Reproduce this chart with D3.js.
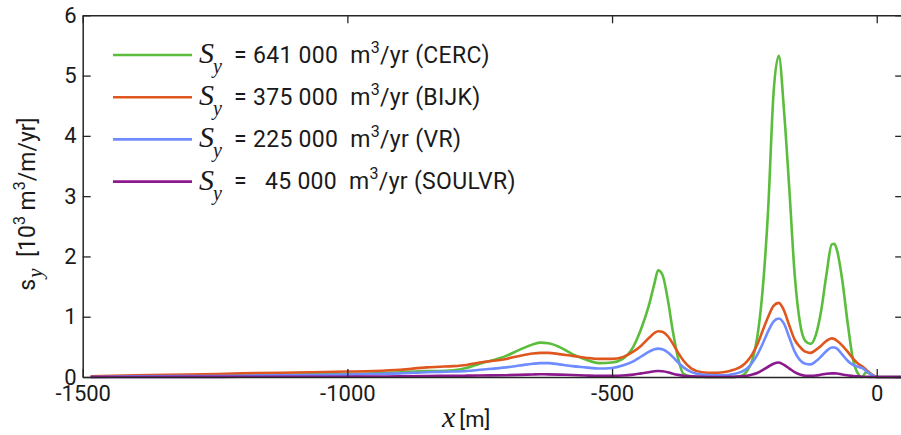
<!DOCTYPE html>
<html><head><meta charset="utf-8">
<script src="https://cdn.jsdelivr.net/npm/d3@7/dist/d3.min.js"></script>
<style>
html,body{margin:0;padding:0;background:#fff;}
svg{display:block;}
text{font-family:Roboto,"Noto Sans",sans-serif;fill:#1a1a1a;}
</style></head>
<body>
<svg id="chart" width="901" height="435"></svg>
<script>
// ---------- data ----------
const xs = [-1485,-1400,-1300,-1200,-1100,-1000,-950,-900,-850,-825,-800,-775,-750,-700,-675,-650,-635,-620,-600,-575,-550,-525,-500,-480,-460,-445,-430,-420,-413,-405,-395,-385,-375,-365,-350,-330,-310,-290,-270,-255,-245,-235,-225,-215,-205,-195,-185,-175,-165,-155,-145,-135,-125,-115,-105,-95,-85,-80,-75,-65,-55,-45,-35,-28,-20,-10,0,50];
const cerc   = [0.0,0.01,0.02,0.03,0.04,0.05,0.06,0.08,0.10,0.10,0.11,0.15,0.22,0.35,0.45,0.54,0.57,0.56,0.50,0.38,0.29,0.23,0.24,0.30,0.50,0.80,1.20,1.55,1.77,1.70,1.30,0.75,0.30,0.05,0.01,0.0,0.0,0.0,0.0,0.02,0.10,0.28,0.70,1.50,2.80,4.70,5.33,4.40,3.10,1.70,0.90,0.60,0.55,0.70,1.10,1.70,2.20,2.21,2.10,1.60,0.90,0.30,0.05,0.0,0.08,0.04,0,0];
const bijk   = [0.01,0.03,0.04,0.06,0.075,0.09,0.10,0.12,0.16,0.17,0.18,0.20,0.24,0.30,0.35,0.39,0.40,0.40,0.38,0.35,0.32,0.30,0.30,0.33,0.42,0.52,0.65,0.73,0.76,0.75,0.68,0.55,0.40,0.27,0.14,0.08,0.07,0.08,0.12,0.18,0.26,0.38,0.55,0.78,1.00,1.18,1.23,1.10,0.85,0.62,0.50,0.42,0.40,0.45,0.52,0.60,0.64,0.63,0.60,0.52,0.42,0.31,0.22,0.18,0.12,0.05,0,0];
const vr     = [0.0,0.01,0.015,0.02,0.03,0.04,0.05,0.06,0.08,0.085,0.09,0.10,0.12,0.16,0.19,0.22,0.23,0.23,0.21,0.18,0.16,0.14,0.15,0.19,0.26,0.34,0.42,0.46,0.47,0.46,0.41,0.33,0.24,0.16,0.08,0.04,0.03,0.03,0.05,0.09,0.14,0.24,0.38,0.56,0.76,0.92,0.97,0.88,0.65,0.42,0.28,0.22,0.21,0.26,0.34,0.43,0.49,0.49,0.47,0.37,0.27,0.20,0.17,0.15,0.10,0.04,0,0];
const soulvr = [0.0,0.0,0.002,0.003,0.004,0.005,0.008,0.01,0.015,0.018,0.02,0.022,0.025,0.03,0.035,0.042,0.045,0.044,0.04,0.032,0.025,0.02,0.02,0.025,0.04,0.06,0.08,0.095,0.10,0.095,0.08,0.055,0.035,0.02,0.01,0.003,0.0,0.0,0.002,0.01,0.02,0.04,0.07,0.12,0.17,0.22,0.24,0.20,0.14,0.08,0.04,0.02,0.02,0.025,0.04,0.055,0.06,0.06,0.058,0.04,0.03,0.015,0.01,0.005,0.003,0.001,0,0];

const seriesNames  = ["CERC","BIJK","VR","SOULVR"];
const seriesTotals = ["641 000","375 000","225 000","\u00a0\u00a045 000"];
const seriesColors = ["#5bbd3c","#e0561f","#6e8cff","#8c1a8e"];
const seriesValues = [cerc,bijk,vr,soulvr];

const xTicks = [-1500,-1000,-500,0];
const yTicks = [0,1,2,3,4,5,6];

// ---------- layout ----------
const svg = d3.select("#chart");
const L = 82.7, R = 903.2, T = 15.3, B = 377;
const x = d3.scaleLinear().domain([-1500,50]).range([L,R]);
const y = d3.scaleLinear().domain([0,6]).range([B,T]);

// curves
const line = d3.line().x(d=>x(d[0])).y(d=>y(d[1])).curve(d3.curveMonotoneX);
seriesValues.forEach((vals,i)=>{
  svg.append("path")
    .datum(xs.map((xv,j)=>[xv,vals[j]]))
    .attr("d",line).attr("fill","none")
    .attr("stroke",seriesColors[i]).attr("stroke-width",2.6)
    .attr("stroke-linejoin","round");
});

// axes
const axisColor = "#262626";
const fmt = d => String(d);
function styleAxis(g){
  g.select(".domain").attr("stroke",axisColor).attr("stroke-width",1.5);
  g.selectAll(".tick line").attr("stroke",axisColor).attr("stroke-width",1.3);
  g.selectAll(".tick text").style("font-family","Roboto, sans-serif").style("font-size","22px").attr("fill","#1a1a1a");
}
const gx = svg.append("g").attr("transform",`translate(0,${B})`)
  .call(d3.axisBottom(x).tickValues(xTicks).tickSizeInner(-8).tickSizeOuter(0).tickPadding(6).tickFormat(fmt));
styleAxis(gx);
gx.selectAll(".tick text").attr("dy","0.95em").attr("y",3);
const gxt = svg.append("g").attr("transform",`translate(0,${T})`)
  .call(d3.axisTop(x).tickValues(xTicks).tickSizeInner(-8).tickSizeOuter(0).tickFormat(""));
styleAxis(gxt);
const gy = svg.append("g").attr("transform",`translate(${L},0)`)
  .call(d3.axisLeft(y).tickValues(yTicks).tickSizeInner(-8).tickSizeOuter(0).tickPadding(7).tickFormat(fmt));
styleAxis(gy);
gy.selectAll(".tick text").attr("x",-6);
const gyr = svg.append("g").attr("transform",`translate(${R},0)`)
  .call(d3.axisRight(y).tickValues(yTicks).tickSizeInner(-8).tickSizeOuter(0).tickFormat(""));
styleAxis(gyr);

// x label
const xl = svg.append("text").attr("x",442).attr("y",427);
xl.append("tspan").text("x").style("font-family","'Liberation Serif',serif").style("font-style","italic").style("font-size","30px");
xl.append("tspan").text("[m]").style("font-size","22px").attr("dx",4);

// y label
const yl = svg.append("text").attr("transform","translate(35,204) rotate(-90)").attr("text-anchor","middle").style("font-size","23px");
yl.append("tspan").text("s");
yl.append("tspan").text("y").attr("dy",7).attr("dx",1).style("font-family","'Liberation Serif',serif").style("font-style","italic").style("font-size","21px");
yl.append("tspan").text("\u00a0 [10").attr("dy",-7);
yl.append("tspan").text("3").attr("dy",-10).style("font-size","16px");
yl.append("tspan").text("\u00a0m").attr("dy",10);
yl.append("tspan").text("3").attr("dy",-10).style("font-size","16px");
yl.append("tspan").text("/m/yr]").attr("dy",10);

// legend
const legY0 = 55, legDY = 42.2;
seriesNames.forEach((name,i)=>{
  const ly = legY0 + i*legDY;
  svg.append("line").attr("x1",113).attr("x2",192).attr("y1",ly).attr("y2",ly)
    .attr("stroke",seriesColors[i]).attr("stroke-width",2.6);
  svg.append("text").attr("x",199).attr("y",ly+8).text("S")
    .style("font-family","'Liberation Serif',serif").style("font-style","italic").style("font-size","30px");
  svg.append("text").attr("x",213).attr("y",ly+18).text("y")
    .style("font-family","'Liberation Serif',serif").style("font-style","italic").style("font-size","20px");
  const t = svg.append("text").attr("x",234).attr("y",ly+7.5).style("font-size","23px").style("letter-spacing","0.3px");
  t.append("tspan").text(`= ${seriesTotals[i]}\u00a0\u00a0m`);
  t.append("tspan").text("3").attr("dy",-10).style("font-size","16px");
  t.append("tspan").text(`/yr (${name})`).attr("dy",10);
});
</script>
</body></html>
